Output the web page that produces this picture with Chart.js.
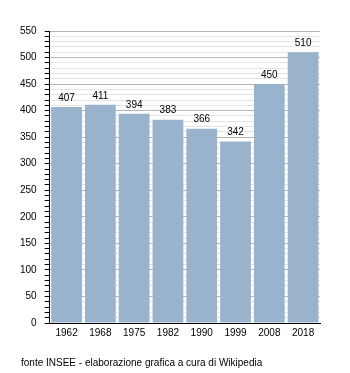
<!DOCTYPE html>
<html><head><meta charset="utf-8">
<script src="https://cdn.jsdelivr.net/npm/chart.js@4"></script>
<style>html,body{margin:0;padding:0;background:#fff}#wrap{width:350px;height:373px}</style>
</head><body><div id="wrap"><canvas id="c" width="350" height="373"></canvas></div>
<script>
const categories = ["1962","1968","1975","1982","1990","1999","2008","2018"];
const population = [407,411,394,383,366,342,450,510];
const yMin = 0, yMax = 550, yStep = 10, yLabelStep = 50;
const sourceNote = "fonte INSEE - elaborazione grafica a cura di Wikipedia";

const FONT = "'Liberation Sans', Arial, sans-serif";
const valueLabels = {
  id: 'valueLabels',
  afterDatasetsDraw(chart) {
    const ctx = chart.ctx;
    const meta = chart.getDatasetMeta(0);
    ctx.save();
    ctx.font = "10px " + FONT;
    ctx.fillStyle = "#000";
    ctx.textAlign = "center";
    ctx.textBaseline = "bottom";
    meta.data.forEach((bar, i) => {
      ctx.fillText(String(population[i]), bar.x, bar.y - 4);
    });
    ctx.restore();
  },
  afterDraw(chart) {
    const ctx = chart.ctx;
    ctx.save();
    ctx.font = "10px " + FONT;
    ctx.fillStyle = "#000";
    ctx.textAlign = "left";
    ctx.textBaseline = "middle";
    ctx.fillText(sourceNote, 21, chart.height - 10);
    ctx.restore();
  }
};

new Chart(document.getElementById('c'), {
  type: 'bar',
  data: { labels: categories, datasets: [{ data: population, backgroundColor: '#9ab3cd', borderWidth: 0, barPercentage: 1, categoryPercentage: 0.91 }] },
  options: {
    responsive: false, animation: false,
    layout: { padding: { left: 12, right: 30, top: 31, bottom: 30 } },
    plugins: {
      legend: { display: false }, tooltip: { enabled: false }, title: { display: false }
    },
    scales: {
      x: {
        grid: { display: false, drawTicks: false },
        border: { color: '#000', width: 1 },
        ticks: { color: '#000', font: { family: FONT, size: 10 }, padding: 4, maxRotation: 0 }
      },
      y: {
        min: yMin, max: yMax,
        grid: {
          color: c => (c.tick && Math.round(c.tick.value) % yLabelStep === 0) ? '#b4b4b4' : '#e4e4e4',
          tickColor: '#000', tickLength: 5, drawTicks: true
        },
        border: { color: '#000', width: 1 },
        ticks: { stepSize: yStep, autoSkip: false, color: '#000', font: { family: FONT, size: 10 }, padding: 8,
          callback: v => (Math.round(v) % yLabelStep === 0) ? String(Math.round(v)) : '' }
      }
    }
  },
  plugins: [valueLabels]
});
</script></body></html>
